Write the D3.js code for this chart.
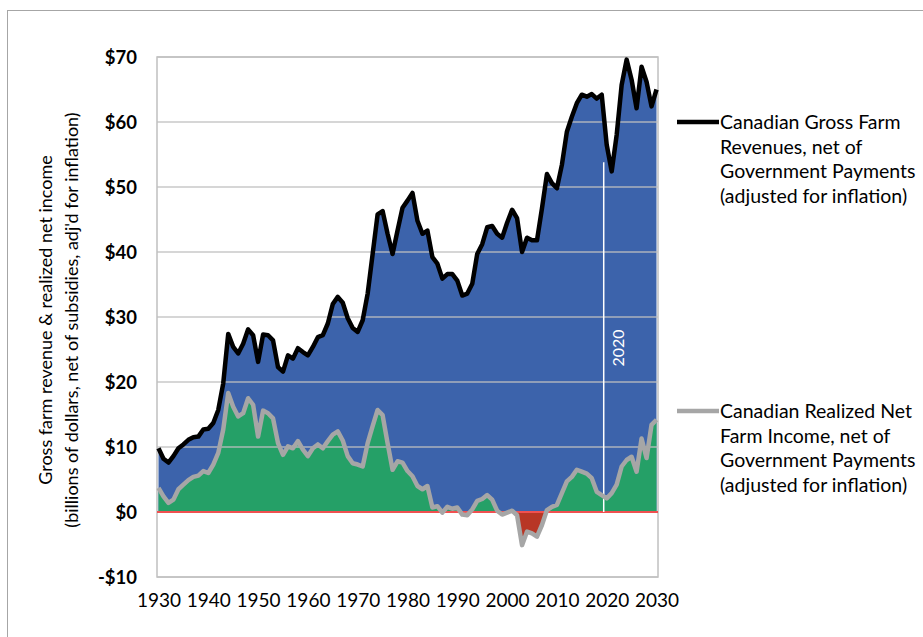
<!DOCTYPE html>
<html>
<head>
<meta charset="utf-8">
<script src="https://cdn.jsdelivr.net/npm/d3@7"></script>
<style>
  body { margin: 0; background: #fff; }
  text { font-family: Lato, "Open Sans", sans-serif; }
</style>
</head>
<body>
<svg id="chart" width="923" height="637"></svg>
<script>
'use strict'

// years 1930..2030, one value per year (billions of dollars, adjusted)
const startYear = 1930
const grossRevenue = [
  9.8, 8.2, 7.6, 8.6, 9.8, 10.4, 11.1, 11.5, 11.6, 12.7,
  12.8, 13.7, 15.7, 19.8, 27.4, 25.4, 24.4, 25.9, 28.1, 27.2,
  23.1, 27.3, 27.2, 26.4, 22.3, 21.6, 24.1, 23.6, 25.2, 24.6,
  24.1, 25.4, 26.9, 27.2, 29.0, 32.0, 33.1, 32.2, 29.8, 28.3,
  27.7, 29.5, 33.6, 39.7, 45.8, 46.3, 42.8, 39.7, 43.3, 46.8,
  47.9, 49.1, 44.8, 42.8, 43.3, 39.2, 38.2, 35.9, 36.6, 36.6,
  35.6, 33.3, 33.6, 35.1, 39.7, 41.2, 43.8, 44.0, 42.8, 42.2,
  44.5, 46.5, 45.2, 40.0, 42.2, 41.8, 41.8, 46.7, 52.0, 50.6,
  49.8, 53.4, 58.5, 60.8, 62.9, 64.2, 63.9, 64.3, 63.6, 64.2,
  56.5, 52.4, 58.0, 65.7, 69.6, 66.5, 62.1, 68.5, 66.2, 62.4,
  65.0
]
const netIncome = [
  3.7, 2.4, 1.4, 1.9, 3.5, 4.2, 4.9, 5.4, 5.6, 6.3,
  6.0, 7.3, 9.1, 12.7, 18.3, 16.2, 14.7, 15.2, 17.5, 16.5,
  11.6, 15.6, 15.2, 14.4, 10.6, 8.8, 10.1, 9.8, 10.9, 9.6,
  8.6, 9.8, 10.4, 9.8, 10.9, 11.9, 12.4, 11.0, 8.6, 7.5,
  7.3, 7.0, 10.6, 13.2, 15.7, 14.9, 10.6, 6.5, 7.8, 7.6,
  6.3, 5.5, 4.0, 3.5, 4.0, 0.7, 0.9, -0.1, 0.8, 0.5,
  0.7, -0.4, -0.5, 0.4, 1.7, 2.0, 2.6, 1.9, 0.2, -0.4,
  -0.1, 0.2, -0.5, -5.1, -3.0, -3.3, -3.8, -2.0, 0.3, 0.8,
  1.1, 2.9, 4.7, 5.4, 6.5, 6.2, 5.9, 5.2, 3.1, 2.6,
  2.1, 2.9, 4.2, 7.0, 8.0, 8.5, 6.2, 11.3, 8.3, 13.4,
  14.2
]
const yTicks = [-10, 0, 10, 20, 30, 40, 50, 60, 70]
const xTicks = [1930, 1940, 1950, 1960, 1970, 1980, 1990, 2000, 2010, 2020, 2030]
const markerYear = 2019.4
const markerLabel = '2020'
const markerTop = 53.8
const yTitle = ['Gross farm revenue & realized net income',
  '(billions of dollars, net of subsidies, adj\'d for inflation)']
const legendGross = ['Canadian Gross Farm', 'Revenues, net of', 'Government Payments', '(adjusted for inflation)']
const legendNet = ['Canadian Realized Net', 'Farm Income, net of', 'Government Payments', '(adjusted for inflation)']

const plot = { left: 157, right: 658, top: 57, bottom: 577 }

const data = grossRevenue.map((g, i) => ({ year: startYear + i, gross: g, net: netIncome[i] }))

const svg = d3.select('#chart')

const xScale = d3.scaleLinear().domain([1929.7, 2030.3]).range([plot.left, plot.right])
const yScale = d3.scaleLinear().domain([-10, 70]).range([plot.bottom, plot.top])

// outer frame
svg.append('rect')
  .attr('x', 7.5).attr('y', 10.5)
  .attr('width', 1000).attr('height', 1000)
  .attr('fill', 'none').attr('stroke', '#a6a6a6').attr('stroke-width', 1)

const defs = svg.append('defs')
defs.append('clipPath').attr('id', 'above')
  .append('rect')
  .attr('x', plot.left).attr('y', plot.top)
  .attr('width', plot.right - plot.left).attr('height', yScale(0) - plot.top)
defs.append('clipPath').attr('id', 'below')
  .append('rect')
  .attr('x', plot.left).attr('y', yScale(0))
  .attr('width', plot.right - plot.left).attr('height', plot.bottom - yScale(0))

// areas
const grossArea = d3.area()
  .x(d => xScale(d.year))
  .y0(yScale(0))
  .y1(d => yScale(d.gross))
const netArea = d3.area()
  .x(d => xScale(d.year))
  .y0(yScale(0))
  .y1(d => yScale(d.net))

svg.append('path').datum(data).attr('d', grossArea).attr('fill', '#3c63ab')
svg.append('path').datum(data).attr('d', netArea).attr('fill', '#25a067')
  .attr('clip-path', 'url(#above)')
svg.append('path').datum(data).attr('d', netArea).attr('fill', '#b83625')
  .attr('clip-path', 'url(#below)')

// gridlines
svg.append('g')
  .selectAll('line')
  .data(yTicks)
  .enter()
  .append('line')
  .attr('x1', plot.left).attr('x2', plot.right)
  .attr('y1', d => yScale(d)).attr('y2', d => yScale(d))
  .attr('stroke', '#c0c0c0').attr('stroke-width', 1.5).attr('opacity', 0.85)

// plot border
svg.append('rect')
  .attr('x', plot.left).attr('y', plot.top)
  .attr('width', plot.right - plot.left).attr('height', plot.bottom - plot.top)
  .attr('fill', 'none').attr('stroke', '#c0c0c0').attr('stroke-width', 1.5)

// zero line
svg.append('line')
  .attr('x1', plot.left).attr('x2', plot.right)
  .attr('y1', yScale(0)).attr('y2', yScale(0))
  .attr('stroke', '#f05050').attr('stroke-width', 2)

// 2020 marker
svg.append('line')
  .attr('x1', xScale(markerYear)).attr('x2', xScale(markerYear))
  .attr('y1', yScale(0)).attr('y2', yScale(markerTop))
  .attr('stroke', '#ffffff').attr('stroke-width', 1.5)
svg.append('text')
  .attr('transform', 'translate(' + (xScale(markerYear) + 20) + ',' + 348 + ') rotate(-90)')
  .attr('text-anchor', 'middle')
  .attr('fill', '#ffffff')
  .attr('font-size', 16)
  .text(markerLabel)

// lines
const grossLine = d3.line().x(d => xScale(d.year)).y(d => yScale(d.gross))
const netLine = d3.line().x(d => xScale(d.year)).y(d => yScale(d.net))

svg.append('path').datum(data).attr('d', netLine)
  .attr('fill', 'none').attr('stroke', '#a6a6a6').attr('stroke-width', 4.5)
  .attr('stroke-linejoin', 'round')
svg.append('path').datum(data).attr('d', grossLine)
  .attr('fill', 'none').attr('stroke', '#000000').attr('stroke-width', 4.5)
  .attr('stroke-linejoin', 'round')

// axes
const yAxis = svg.append('g')
  .attr('transform', 'translate(' + plot.left + ',0)')
  .call(d3.axisLeft(yScale).tickValues(yTicks).tickSize(0).tickPadding(20)
    .tickFormat(d => (d < 0 ? '-$' : '$') + Math.abs(d)))
yAxis.select('.domain').remove()
yAxis.selectAll('text')
  .attr('font-family', 'Lato, sans-serif')
  .attr('font-size', 18.5).attr('font-weight', 'bold').attr('fill', '#000')
  .attr('dy', '0.35em')

const xAxis = svg.append('g')
  .attr('transform', 'translate(0,' + plot.bottom + ')')
  .call(d3.axisBottom(xScale).tickValues(xTicks).tickSize(0).tickPadding(17)
    .tickFormat(d3.format('d')))
xAxis.select('.domain').remove()
xAxis.selectAll('text')
  .attr('font-family', 'Lato, sans-serif')
  .attr('font-size', 19).attr('fill', '#000')

// y title
const title = svg.append('text')
  .attr('transform', 'translate(52,320) rotate(-90)')
  .attr('text-anchor', 'middle')
  .attr('font-size', 18)
  .attr('fill', '#000')
title.selectAll('tspan')
  .data(yTitle)
  .enter()
  .append('tspan')
  .attr('x', 0)
  .attr('dy', (d, i) => i === 0 ? 0 : 26)
  .text(d => d)

// legend
function drawLegend (lines, y, color) {
  svg.append('line')
    .attr('x1', 677).attr('x2', 719)
    .attr('y1', y).attr('y2', y)
    .attr('stroke', color).attr('stroke-width', 4.5)
  const t = svg.append('text')
    .attr('x', 720).attr('y', y)
    .attr('font-size', 19.5)
    .attr('fill', '#000')
    .attr('dy', '0.35em')
  t.selectAll('tspan')
    .data(lines)
    .enter()
    .append('tspan')
    .attr('x', 720)
    .attr('dy', (d, i) => i === 0 ? '0.35em' : 24.8)
    .text(d => d)
}

drawLegend(legendGross, 122, '#000000')
drawLegend(legendNet, 411, '#a6a6a6')
</script>
</body>
</html>
